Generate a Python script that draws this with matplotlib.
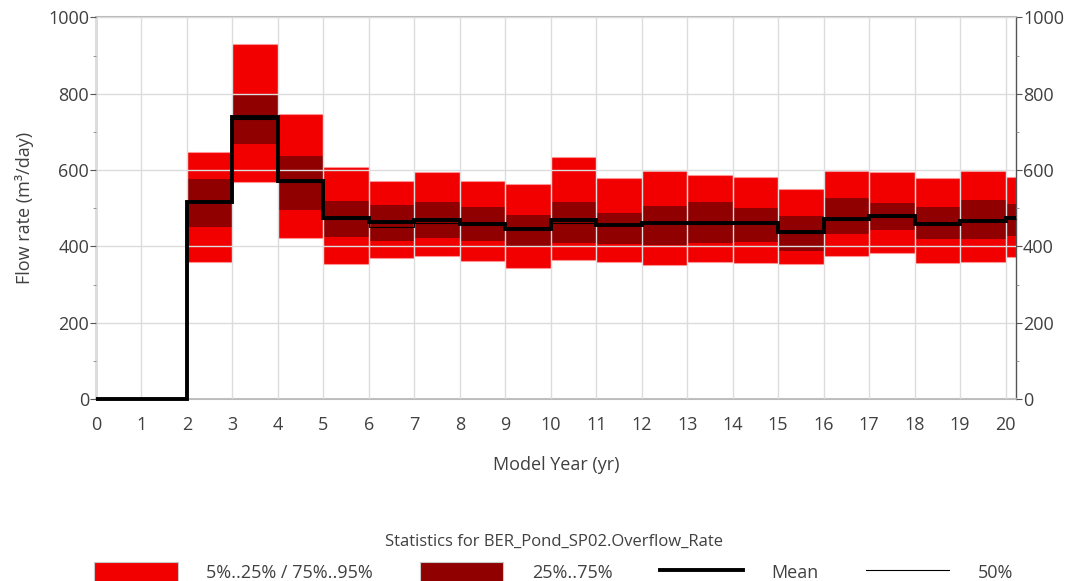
import numpy as np
import matplotlib
matplotlib.use("Agg")
import matplotlib.pyplot as plt
from matplotlib.patches import Patch
from matplotlib.lines import Line2D

plt.rcParams['font.family'] = ['Open Sans', 'DejaVu Sans']

# statistics per model year (years 0..20), flow rate m3/day
years = np.arange(0, 21)
p5 = [0, 0, 358, 568, 421, 354, 369, 376, 362, 344, 364, 360, 351, 358, 356, 353, 376, 382, 356, 358, 371]
p25 = [0, 0, 452, 668, 495, 424, 414, 423, 415, 402, 408, 406, 404, 408, 412, 389, 432, 443, 419, 419, 427]
p50 = [0, 0, 520, 734, 568, 472, 452, 462, 458, 446, 460, 455, 461, 458, 460, 436, 470, 478, 458, 468, 472]
mean = [0, 0, 517, 738, 570, 474, 465, 469, 459, 446, 469, 455, 460, 460, 462, 437, 472, 480, 459, 467, 474]
p75 = [0, 0, 577, 797, 637, 520, 509, 515, 502, 482, 516, 487, 507, 515, 501, 480, 528, 513, 504, 522, 510]
p95 = [0, 0, 648, 930, 746, 607, 570, 596, 571, 563, 633, 578, 598, 587, 583, 550, 598, 596, 578, 598, 583]

p5, p25, p50, mean, p75, p95 = map(np.array, (p5, p25, p50, mean, p75, p95))

light_red = '#f20000'
dark_red = '#900000'
xmax = 20.23

fig = plt.figure(figsize=(10.65, 5.81), dpi=100)
ax = fig.add_axes([0.0901, 0.3133, 0.8639, 0.6567])

edges = np.r_[years, xmax]
widths = np.diff(edges)
m = p95 > 0
ax.bar(years[m], (p95 - p5)[m], bottom=p5[m], width=widths[m], align='edge',
       color=light_red, edgecolor=(1, 0.6, 0.6, 0.8), linewidth=0.8, zorder=1)
ax.bar(years[m], (p75 - p25)[m], bottom=p25[m], width=widths[m], align='edge',
       color=dark_red, edgecolor='none', zorder=1.1)

ax.stairs(mean, edges, baseline=None, color='black', linewidth=2.8, zorder=3, clip_on=False)
ax.stairs(p50, edges, baseline=None, color='black', linewidth=0.8, zorder=3.1, clip_on=False)

ax.set_xlim(0, xmax)
ax.set_ylim(0, 1000)
ax.set_xticks(np.arange(0, 21))
ax.set_yticks(np.arange(0, 1001, 200))
ax.set_yticks(np.arange(100, 1000, 200), minor=True)

ax.set_axisbelow(False)
ax.grid(True, which='major', color='#dcdcdc', linewidth=1, zorder=2)

for s in ['left', 'right']:
    ax.spines[s].set_color('#555555')
    ax.spines[s].set_linewidth(1)
for s in ['top', 'bottom']:
    ax.spines[s].set_color('#bbbbbb')
    ax.spines[s].set_linewidth(1.5)

ax.tick_params(axis='y', which='major', left=True, right=True, labelright=True,
               length=4, color='#555555', labelsize=13, labelcolor='#404040', pad=1)
ax.tick_params(axis='y', which='minor', left=True, right=True, length=2, color='#888888')
ax.tick_params(axis='x', which='major', length=0, labelsize=13, labelcolor='#404040', pad=12)

ax.set_xlabel('Model Year (yr)', fontsize=13, color='#404040', labelpad=16)
ax.set_ylabel('Flow rate (m³/day)', fontsize=13, color='#404040', labelpad=10)

handles = [
    Patch(facecolor=light_red, edgecolor='#c8c8c8', linewidth=0.8),
    Patch(facecolor=dark_red, edgecolor='#c8c8c8', linewidth=0.8),
    Line2D([], [], color='black', linewidth=2.8),
    Line2D([], [], color='black', linewidth=0.8),
]
labels = ['5%..25% / 75%..95%', '25%..75%', 'Mean', '50%']
leg = fig.legend(handles, labels, loc='lower center', bbox_to_anchor=(0.52, -0.03),
                 ncol=4, frameon=False, fontsize=13, handlelength=4.6, handleheight=1.3,
                 handletextpad=1.6, columnspacing=2.6,
                 title='Statistics for BER_Pond_SP02.Overflow_Rate', title_fontsize=12)
for t in leg.get_texts():
    t.set_color('#404040')
leg.get_title().set_color('#404040')
leg._legend_box.sep = 9

fig.savefig('out.png', dpi=100)
